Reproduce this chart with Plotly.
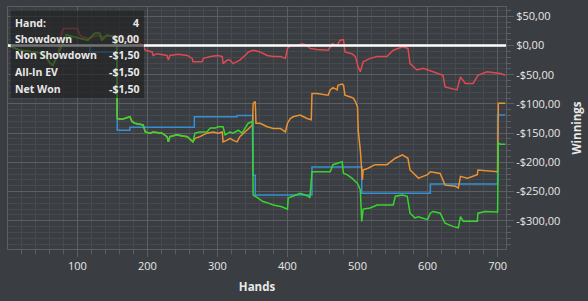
import plotly.graph_objects as go

# ---------------- data ----------------
net_hands = [1, 18, 51, 61, 65, 72, 78, 84, 100, 115,
             125, 132, 135, 142, 156, 157, 164, 175, 178, 182,
             194, 197, 204, 208, 221, 228, 230, 232, 242, 257,
             265, 268, 275, 285, 290, 297, 301, 308, 311, 318,
             322, 330, 335, 342, 344, 350, 351, 354, 365, 371,
             380, 392, 397, 400, 401, 407, 418, 430, 432, 435,
             442, 451, 461, 465, 472, 478, 480, 485, 492, 500,
             504, 506, 508, 518, 528, 551, 554, 564, 571, 575,
             582, 587, 600, 604, 608, 618, 625, 637, 644, 647,
             651, 671, 672, 682, 700, 701, 704, 711]
net_won = [0, -8, -13, -30, -34, -17, 0, 18, 14, 9,
           21, 21, 9, 18, 14, -125, -126, -122, -130, -133,
           -136, -148, -150, -148, -150, -156, -165, -156, -153, -156,
           -165, -150, -148, -148, -141, -141, -139, -139, -153, -148,
           -150, -145, -150, -136, -133, -130, -256, -258, -267, -269,
           -273, -276, -278, -280, -261, -258, -253, -258, -261, -216,
           -216, -217, -216, -204, -201, -199, -219, -221, -227, -236,
           -247, -301, -280, -278, -273, -273, -258, -256, -258, -287,
           -295, -293, -298, -287, -284, -287, -304, -310, -312, -293,
           -301, -301, -287, -284, -285, -167, -169, -169]

ev_hands = [1, 18, 51, 61, 65, 72, 78, 84, 100, 115,
            125, 132, 135, 142, 156, 157, 164, 175, 178, 182,
            194, 197, 204, 208, 221, 228, 230, 232, 242, 257,
            265, 268, 275, 285, 294, 301, 307, 308, 314, 318,
            322, 328, 332, 337, 342, 347, 350, 351, 354, 355,
            361, 371, 380, 390, 397, 400, 404, 408, 418, 428,
            434, 435, 442, 458, 461, 465, 471, 472, 478, 480,
            482, 490, 494, 497, 500, 501, 504, 507, 508, 515,
            525, 542, 554, 564, 572, 575, 582, 587, 600, 604,
            618, 625, 640, 644, 647, 657, 671, 672, 700, 701,
            711]
allin_ev = [0, -8, -13, -30, -34, -17, 0, 18, 14, 9,
            21, 21, 9, 18, 14, -125, -126, -122, -130, -133,
            -136, -148, -150, -148, -150, -156, -165, -156, -153, -156,
            -165, -159, -156, -150, -148, -150, -148, -165, -162, -159,
            -162, -165, -156, -150, -145, -139, -136, -99, -96, -133,
            -133, -139, -142, -142, -148, -133, -125, -122, -119, -125,
            -127, -82, -82, -85, -76, -72, -76, -68, -66, -68,
            -85, -88, -90, -96, -105, -145, -179, -230, -213, -210,
            -204, -204, -193, -187, -193, -213, -221, -227, -221, -216,
            -219, -239, -241, -244, -224, -227, -221, -213, -216, -99,
            -99]

nsd_hands = [1, 18, 51, 61, 65, 72, 76, 80, 100, 104,
             115, 128, 137, 151, 171, 185, 194, 197, 207, 208,
             214, 228, 230, 232, 244, 257, 264, 265, 278, 280,
             290, 301, 307, 308, 314, 318, 322, 328, 332, 342,
             344, 351, 361, 371, 380, 390, 397, 400, 404, 414,
             421, 428, 432, 442, 458, 464, 471, 475, 480, 482,
             492, 497, 501, 504, 508, 518, 528, 542, 551, 565,
             572, 575, 585, 594, 607, 622, 625, 642, 647, 654,
             665, 672, 685, 704, 711]
non_showdown = [0, -8, -13, -30, -34, -17, 15, 29, 29, 17,
                12, 17, 15, 17, 12, 6, 0, -8, -11, -17,
                -14, -17, -25, -17, -15, -17, -22, -28, -28, -22,
                -19, -17, -19, -31, -25, -25, -31, -28, -25, -14,
                -11, -8, -11, -17, -19, -19, -22, -5, 0, 0,
                3, 0, -5, -7, -8, 3, 0, 9, 10, -11,
                -14, -19, -37, -45, -28, -22, -19, -19, -8, -2,
                -5, -31, -42, -39, -45, -51, -71, -76, -54, -65,
                -65, -51, -45, -48, -51]

sd_hands = [1, 118, 157, 175, 267, 328, 351, 354, 435, 506, 604, 700, 711]
showdown = [0, -11, -145, -140, -122, -120, -222, -256, -208, -253, -237, -119, -119]

x_tick_vals = [100, 200, 300, 400, 500, 600, 700]
y_tick_vals = [50, 0, -50, -100, -150, -200, -250, -300]
y_tick_text = ["$50,00", "$0,00", "-$50,00", "-$100,00", "-$150,00",
               "-$200,00", "-$250,00", "-$300,00"]

box_labels = ["Hand:", "Showdown", "Non Showdown", "All-In EV", "Net Won"]
box_values = ["4", "$0,00", "-$1,50", "-$1,50", "-$1,50"]

# ---------------- styling ----------------
BG = "#3a3d41"
GRID_MAJ = "#5b5e62"
GRID_MIN = "#46494d"
TXT = "#e8e8e8"
FONT = "Open Sans"
BOX_FONT = "Open Sans"

fig = go.Figure()
fig.add_trace(go.Scatter(x=nsd_hands, y=non_showdown, mode="lines",
                         line=dict(color="#de4a4f", width=1.5), name="Non Showdown"))
fig.add_trace(go.Scatter(x=sd_hands, y=showdown, mode="lines",
                         line=dict(color="#3590d4", width=1.5, shape="hv"), name="Showdown"))
fig.add_trace(go.Scatter(x=ev_hands, y=allin_ev, mode="lines",
                         line=dict(color="#ea9232", width=1.5), name="All-In EV"))
fig.add_trace(go.Scatter(x=net_hands, y=net_won, mode="lines",
                         line=dict(color="#38d530", width=1.5), name="Net Won"))

fig.add_hline(y=0, line_color="#ffffff", line_width=2.5, layer="above")

# tooltip-like box
fig.add_shape(type="rect", xref="paper", yref="paper",
              x0=0.0054, x1=0.273, y0=0.624, y1=0.986,
              fillcolor="rgba(30,31,33,0.62)", line=dict(width=0), layer="above")

row_y = [0.934, 0.866, 0.800, 0.730, 0.661]
for lab, val, yy in zip(box_labels, box_values, row_y):
    fig.add_annotation(xref="paper", yref="paper", x=0.0125, y=yy, text="<b>%s</b>" % lab,
                       xanchor="left", yanchor="middle", showarrow=False, borderpad=0,
                       font=dict(family=BOX_FONT, size=10.5, color=TXT))
    fig.add_annotation(xref="paper", yref="paper", x=0.2652, y=yy, text="<b>%s</b>" % val,
                       xanchor="right", yanchor="middle", showarrow=False, borderpad=0,
                       font=dict(family=BOX_FONT, size=10.5, color=TXT))

fig.update_layout(
    width=588, height=301,
    margin=dict(l=8, r=82, t=7, b=52),
    paper_bgcolor=BG, plot_bgcolor=BG,
    showlegend=False,
    font=dict(family=FONT, size=11, color=TXT),
)
fig.update_xaxes(
    range=[1, 712], tickvals=x_tick_vals,
    showgrid=True, gridcolor=GRID_MAJ, gridwidth=1,
    ticks="outside", ticklen=7, tickcolor=GRID_MAJ,
    showline=True, linecolor=GRID_MAJ, mirror=True, zeroline=False,
    minor=dict(dtick=20, tick0=0, showgrid=True, gridcolor=GRID_MIN,
               ticks="outside", ticklen=4, tickcolor=GRID_MAJ),
    tickfont=dict(family=FONT, size=11, color=TXT),
    title=dict(text="<b>Hands</b>", font=dict(family=FONT, size=11.5, color=TXT), standoff=10),
)
fig.update_yaxes(
    side="right", range=[-348.3, 65.9],
    tickvals=y_tick_vals, ticktext=y_tick_text,
    showgrid=True, gridcolor=GRID_MAJ, gridwidth=1,
    ticks="outside", ticklen=7, tickcolor=GRID_MAJ,
    showline=True, linecolor=GRID_MAJ, mirror=True, zeroline=False,
    minor=dict(dtick=10, tick0=0, showgrid=True, gridcolor=GRID_MIN,
               ticks="outside", ticklen=4, tickcolor=GRID_MAJ),
    tickfont=dict(family=FONT, size=11, color=TXT),
    title=dict(text="<b>Winnings</b>", font=dict(family=FONT, size=11.5, color=TXT), standoff=13),
)

fig.write_html("out.html")
